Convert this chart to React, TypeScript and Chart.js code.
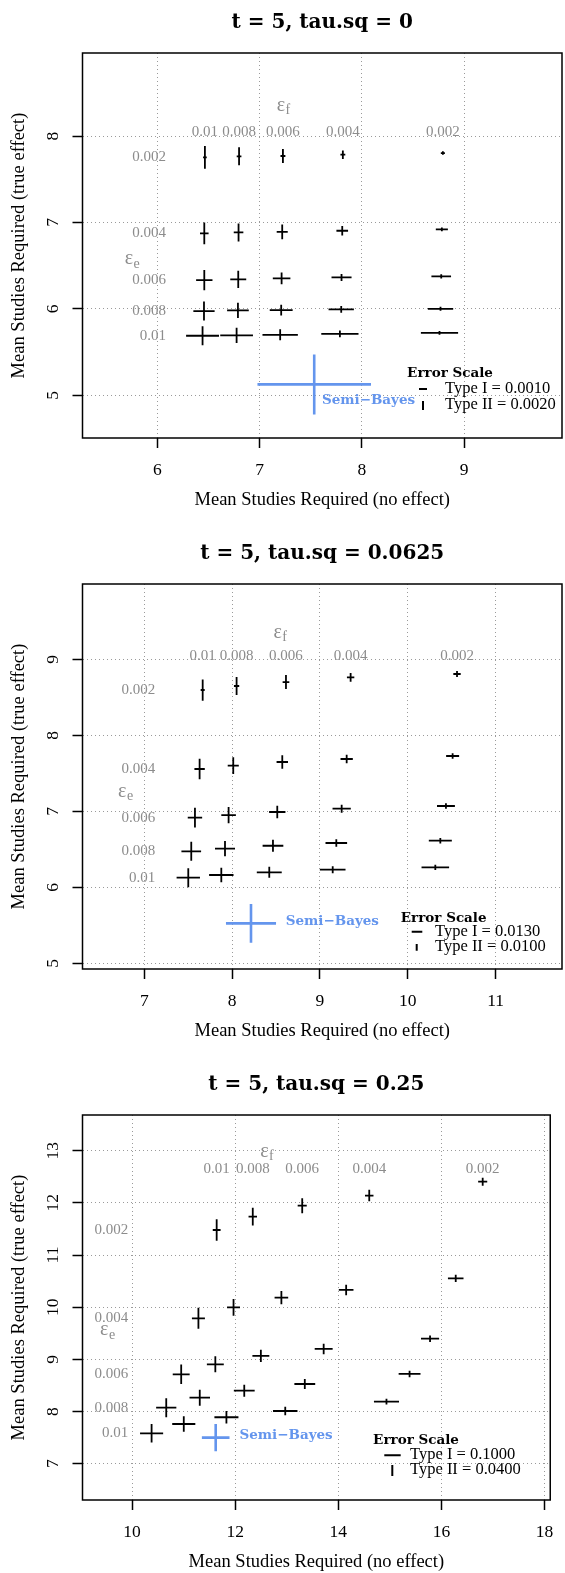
import React, { useEffect, useRef } from 'react';
import { Chart, registerables } from 'chart.js';
Chart.register(...registerables);

// ---------- categories ----------
const rowLabels = ['0.002', '0.004', '0.006', '0.008', '0.01']; // epsilon_e (rows, top to bottom)
const colLabels = ['0.01', '0.008', '0.006', '0.004', '0.002']; // epsilon_f (columns, left to right)

// ---------- panel 1 : t = 5, tau.sq = 0 ----------
const p1Title = 't = 5, tau.sq = 0';
const p1XTicks = [6, 7, 8, 9];
const p1YTicks = [5, 6, 7, 8];
const p1XRange = [5.269, 9.958];
const p1YRange = [4.506, 8.961];
const p1X = [
  6.466, 6.800, 7.229, 7.815, 8.793,
  6.460, 6.795, 7.222, 7.809, 8.783,
  6.460, 6.792, 7.216, 7.802, 8.777,
  6.457, 6.789, 7.212, 7.799, 8.770,
  6.443, 6.776, 7.202, 7.786, 8.760,
];
const p1Y = [
  7.753, 7.765, 7.769, 7.784, 7.803,
  6.874, 6.885, 6.892, 6.904, 6.920,
  6.333, 6.341, 6.353, 6.364, 6.376,
  5.975, 5.983, 5.986, 5.994, 6.001,
  5.689, 5.693, 5.700, 5.712, 5.723,
];
const p1XErr = [
  0.018, 0.023, 0.024, 0.024, 0.020,
  0.042, 0.047, 0.054, 0.057, 0.059,
  0.080, 0.078, 0.086, 0.098, 0.096,
  0.104, 0.106, 0.112, 0.124, 0.124,
  0.161, 0.160, 0.173, 0.182, 0.182,
];
const p1YErr = [
  0.131, 0.104, 0.081, 0.050, 0.020,
  0.125, 0.104, 0.085, 0.054, 0.023,
  0.116, 0.100, 0.069, 0.040, 0.025,
  0.110, 0.089, 0.062, 0.040, 0.023,
  0.110, 0.089, 0.064, 0.039, 0.021,
];

// ---------- panel 2 : t = 5, tau.sq = 0.0625 ----------
const p2Title = 't = 5, tau.sq = 0.0625';
const p2XTicks = [7, 8, 9, 10, 11];
const p2YTicks = [5, 6, 7, 8, 9];
const p2XRange = [6.297, 11.755];
const p2YRange = [4.925, 9.991];
const p2X = [
  7.665, 8.051, 8.613, 9.349, 10.560,
  7.630, 8.013, 8.571, 9.304, 10.510,
  7.577, 7.960, 8.514, 9.247, 10.434,
  7.535, 7.919, 8.465, 9.186, 10.370,
  7.501, 7.877, 8.423, 9.145, 10.313,
];
const p2Y = [
  8.596, 8.649, 8.701, 8.763, 8.807,
  7.557, 7.600, 7.649, 7.688, 7.728,
  6.917, 6.951, 6.991, 7.034, 7.070,
  6.474, 6.508, 6.547, 6.583, 6.613,
  6.127, 6.162, 6.197, 6.232, 6.263,
];
const p2XErr = [
  0.023, 0.030, 0.038, 0.042, 0.042,
  0.059, 0.063, 0.065, 0.070, 0.074,
  0.082, 0.083, 0.093, 0.104, 0.102,
  0.112, 0.114, 0.118, 0.123, 0.131,
  0.133, 0.139, 0.142, 0.146, 0.157,
];
const p2YErr = [
  0.140, 0.118, 0.092, 0.057, 0.039,
  0.136, 0.110, 0.088, 0.057, 0.037,
  0.129, 0.107, 0.081, 0.053, 0.037,
  0.125, 0.100, 0.079, 0.050, 0.037,
  0.125, 0.094, 0.072, 0.046, 0.035,
];

// ---------- panel 3 : t = 5, tau.sq = 0.25 ----------
const p3Title = 't = 5, tau.sq = 0.25';
const p3XTicks = [10, 12, 14, 16, 18];
const p3YTicks = [7, 8, 9, 10, 11, 12, 13];
const p3XRange = [9.039, 18.11];
const p3YRange = [6.304, 13.684];
const p3X = [
  11.641, 12.341, 13.300, 14.600, 16.800,
  11.287, 11.968, 12.896, 14.152, 16.277,
  10.953, 11.615, 12.498, 13.716, 15.779,
  10.663, 11.313, 12.176, 13.350, 15.382,
  10.379, 11.003, 11.830, 12.971, 14.934,
];
const p3Y = [
  11.480, 11.735, 11.946, 12.140, 12.406,
  9.787, 9.998, 10.183, 10.330, 10.554,
  8.714, 8.905, 9.065, 9.199, 9.396,
  8.074, 8.265, 8.400, 8.528, 8.720,
  7.583, 7.761, 7.890, 8.010, 8.189,
];
const p3XErr = [
  0.076, 0.082, 0.088, 0.082, 0.088,
  0.126, 0.126, 0.132, 0.142, 0.151,
  0.164, 0.164, 0.164, 0.174, 0.176,
  0.196, 0.199, 0.202, 0.202, 0.212,
  0.224, 0.224, 0.233, 0.237, 0.243,
];
const p3YErr = [
  0.208, 0.169, 0.144, 0.109, 0.077,
  0.201, 0.160, 0.128, 0.099, 0.070,
  0.188, 0.153, 0.118, 0.099, 0.061,
  0.182, 0.153, 0.115, 0.096, 0.061,
  0.179, 0.147, 0.118, 0.083, 0.054,
];

// ---------- Semi-Bayes (one per panel) ----------
const sbX = [7.535, 8.215, 11.622];
const sbY = [5.126, 5.526, 7.499];
const sbXErr = [0.555, 0.285, 0.268];
const sbYErr = [0.347, 0.254, 0.262];

// ---------- error scale legend values ----------
const typeIScale = ['0.0010', '0.0130', '0.1000'];
const typeIIScale = ['0.0020', '0.0100', '0.0400'];

// ---------- annotation anchors (data units) ----------
const colLabelYs = [8.045, 9.047, 12.643];
const rowLabelXs = [6.085, 7.125, 9.924];
const efAnchors = [[7.232, 8.339], [8.545, 9.342], [12.612, 12.962]];
const eeAnchors = [[5.753, 6.565], [6.784, 7.25], [9.521, 9.544]];
const sbLabelAnchors = [[7.61, 4.944], [8.61, 5.547], [12.082, 7.531]];

// ---------- layout (pixels, panel-local) ----------
const PANEL_H = 531;
const legendLayouts = [
  { head: [450, 373], t1: [445, 388.5], g1: [419, 427, 389], t2: [445, 405], g2: [423, 401, 410] },
  { head: [443.7, 387.3], t1: [435, 401], g1: [411.7, 422.3, 400.7], t2: [435, 416], g2: [416.7, 413, 419.7] },
  { head: [416, 378], t1: [410, 392.5], g1: [384.3, 400.7, 393.3], t2: [410, 408], g2: [392.3, 403, 414] },
];
const yTickPadding = [14.8, 14.8, 10.4];

const SERIF = '"Liberation Serif"';
const BOLD = '"DejaVu Serif"';
const GREY = '#8c8c8c';
const BLUE = '#6495ED';

type Panel = {
  title: string; xTicks: number[]; yTicks: number[]; xRange: number[]; yRange: number[];
  x: number[]; y: number[]; xe: number[]; ye: number[]; idx: number;
};

const panels: Panel[] = [
  { title: p1Title, xTicks: p1XTicks, yTicks: p1YTicks, xRange: p1XRange, yRange: p1YRange, x: p1X, y: p1Y, xe: p1XErr, ye: p1YErr, idx: 0 },
  { title: p2Title, xTicks: p2XTicks, yTicks: p2YTicks, xRange: p2XRange, yRange: p2YRange, x: p2X, y: p2Y, xe: p2XErr, ye: p2YErr, idx: 1 },
  { title: p3Title, xTicks: p3XTicks, yTicks: p3YTicks, xRange: p3XRange, yRange: p3YRange, x: p3X, y: p3Y, xe: p3XErr, ye: p3YErr, idx: 2 },
];

function crossPoints(xs: number[], ys: number[], ex: number[], ey: number[]) {
  const pts: any[] = [];
  for (let i = 0; i < xs.length; i++) {
    pts.push({ x: xs[i] - ex[i], y: ys[i] }, { x: xs[i] + ex[i], y: ys[i] }, { x: xs[i], y: null });
    pts.push({ x: xs[i], y: ys[i] - ey[i] }, { x: xs[i], y: ys[i] + ey[i] }, { x: xs[i], y: null });
  }
  return pts;
}

function drawEps(ctx: CanvasRenderingContext2D, cx: number, cy: number, sub: string) {
  ctx.font = `20px ${SERIF}`;
  const w1 = ctx.measureText('ε').width;
  ctx.font = `14px ${SERIF}`;
  const w2 = ctx.measureText(sub).width;
  const left = cx - (w1 + w2) / 2;
  ctx.textAlign = 'left';
  ctx.textBaseline = 'middle';
  ctx.font = `20px ${SERIF}`;
  ctx.fillText('ε', left, cy - 1);
  ctx.font = `14px ${SERIF}`;
  ctx.fillText(sub, left + w1 + 0.5, cy + 4);
}

function makeTextPlugin(p: Panel) {
  const i = p.idx;
  return {
    id: 'panelText' + i,
    afterDatasetsDraw(chart: any) {
      const { ctx, chartArea: ca, scales } = chart;
      const sx = scales.x, sy = scales.y;
      ctx.save();
      // plot box
      ctx.strokeStyle = '#000';
      ctx.lineWidth = 1.5;
      ctx.strokeRect(ca.left, ca.top, ca.right - ca.left, ca.bottom - ca.top);

      // column labels (epsilon_f)
      ctx.fillStyle = GREY;
      ctx.font = `15px ${SERIF}`;
      ctx.textBaseline = 'middle';
      ctx.textAlign = 'center';
      colLabels.forEach((lab, c) => {
        ctx.fillText(lab, sx.getPixelForValue(p.x[c]), sy.getPixelForValue(colLabelYs[i]));
      });
      // row labels (epsilon_e)
      ctx.textAlign = 'right';
      rowLabels.forEach((lab, r) => {
        ctx.fillText(lab, sx.getPixelForValue(rowLabelXs[i]), sy.getPixelForValue(p.y[r * 5]));
      });
      drawEps(ctx, sx.getPixelForValue(efAnchors[i][0]), sy.getPixelForValue(efAnchors[i][1]), 'f');
      drawEps(ctx, sx.getPixelForValue(eeAnchors[i][0]), sy.getPixelForValue(eeAnchors[i][1]), 'e');

      // Semi-Bayes label
      ctx.fillStyle = BLUE;
      ctx.font = `bold 13.5px ${BOLD}`;
      ctx.textAlign = 'left';
      ctx.textBaseline = 'middle';
      ctx.fillText('Semi\u2212Bayes', sx.getPixelForValue(sbLabelAnchors[i][0]), sy.getPixelForValue(sbLabelAnchors[i][1]));

      // Error scale legend
      const L = legendLayouts[i];
      ctx.fillStyle = '#000';
      ctx.textAlign = 'center';
      ctx.font = `bold 13.5px ${BOLD}`;
      ctx.fillText('Error Scale', L.head[0], L.head[1]);
      ctx.textAlign = 'left';
      ctx.font = `16.5px ${SERIF}`;
      ctx.fillText('Type I = ' + typeIScale[i], L.t1[0], L.t1[1]);
      ctx.fillText('Type II = ' + typeIIScale[i], L.t2[0], L.t2[1]);
      ctx.strokeStyle = '#000';
      ctx.lineWidth = 2;
      ctx.beginPath();
      ctx.moveTo(L.g1[0], L.g1[2]); ctx.lineTo(L.g1[1], L.g1[2]);
      ctx.moveTo(L.g2[0], L.g2[1]); ctx.lineTo(L.g2[0], L.g2[2]);
      ctx.stroke();
      ctx.restore();
    },
  };
}

function PanelChart({ p }: { p: Panel }) {
  const ref = useRef<HTMLCanvasElement>(null);
  useEffect(() => {
    if (!ref.current) return;
    const i = p.idx;
    const gridCommon = {
      color: '#9a9a9a', lineWidth: 1, drawTicks: true, tickLength: 10,
      tickColor: '#000', tickWidth: 1.5, tickBorderDash: [],
    };
    const chart = new Chart(ref.current, {
      type: 'scatter',
      data: {
        datasets: [
          {
            data: crossPoints(p.x, p.y, p.xe, p.ye),
            showLine: true, borderColor: '#000', borderWidth: 1.8, pointRadius: 0,
            spanGaps: false, tension: 0,
          } as any,
          {
            data: crossPoints([sbX[i]], [sbY[i]], [sbXErr[i]], [sbYErr[i]]),
            showLine: true, borderColor: BLUE, borderWidth: 2.6, pointRadius: 0,
            spanGaps: false, tension: 0,
          } as any,
        ],
      },
      options: {
        animation: false,
        responsive: false,
        events: [],
        layout: { padding: { left: 0, right: 3, top: 0, bottom: 0 } },
        plugins: {
          legend: { display: false },
          tooltip: { enabled: false },
          title: {
            display: true, text: p.title, color: '#000', fullSize: false,
            font: { family: BOLD, size: 20, weight: 'bold', lineHeight: 1.2 },
            padding: { top: 11, bottom: 18 },
          },
        },
        scales: {
          x: {
            type: 'linear', position: 'bottom', min: p.xRange[0], max: p.xRange[1],
            afterBuildTicks: (s: any) => { s.ticks = p.xTicks.map((v) => ({ value: v })); },
            afterFit: (s: any) => { s.height = PANEL_H - 438; },
            grid: gridCommon,
            border: { display: false, dash: [1, 3] },
            ticks: {
              color: '#000', padding: 11.5, maxRotation: 0, minRotation: 0,
              font: { family: SERIF, size: 17.5 },
              callback: (v: any) => String(v),
            },
            title: {
              display: true, text: 'Mean Studies Required (no effect)', color: '#000',
              font: { family: SERIF, size: 18.5, lineHeight: 1.2 },
              padding: { top: 0, bottom: 20 },
            },
          },
          y: {
            type: 'linear', position: 'left', min: p.yRange[0], max: p.yRange[1],
            afterBuildTicks: (s: any) => { s.ticks = p.yTicks.map((v) => ({ value: v })); },
            afterFit: (s: any) => { s.width = 82.5; },
            grid: gridCommon,
            border: { display: false, dash: [1, 3] },
            ticks: {
              color: '#000', padding: yTickPadding[i], minRotation: 90, maxRotation: 90,
              crossAlign: 'center',
              font: { family: SERIF, size: 17.5 },
              callback: (v: any) => String(v),
            },
            title: {
              display: true, text: 'Mean Studies Required (true effect)', color: '#000',
              font: { family: SERIF, size: 18.5, lineHeight: 1.2 },
              padding: { top: 8.4, bottom: 0 },
            },
          },
        },
      } as any,
      plugins: [makeTextPlugin(p)],
    });
    return () => chart.destroy();
  }, [p]);
  return (
    <canvas
      ref={ref}
      width={565}
      height={PANEL_H}
      style={{ position: 'absolute', left: 0, top: p.idx * PANEL_H, width: 565, height: PANEL_H, display: 'block' }}
    />
  );
}

export default function App() {
  return (
    <div style={{ position: 'absolute', left: 0, top: 0, width: 565, height: 1573, overflow: 'hidden', background: '#fff' }}>
      {panels.map((p) => <PanelChart key={p.idx} p={p} />)}
    </div>
  );
}
